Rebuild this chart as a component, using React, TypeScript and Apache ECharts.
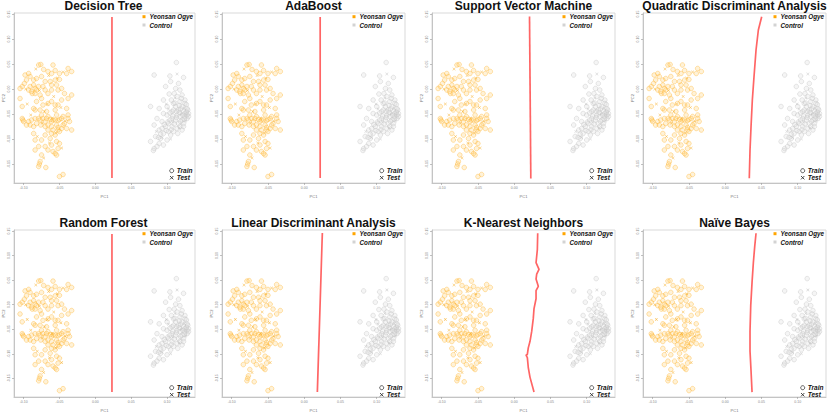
import React, { useEffect, useRef } from "react";
import * as echarts from "echarts";

const panelTitles = [
  "Decision Tree",
  "AdaBoost",
  "Support Vector Machine",
  "Quadratic Discriminant Analysis",
  "Random Forest",
  "Linear Discriminant Analysis",
  "K-Nearest Neighbors",
  "Naïve Bayes",
];

const classNames = ["Yeonsan Ogye", "Control"];
const splitNames = ["Train", "Test"];

const xTicks = [-0.1, -0.05, 0, 0.05, 0.1];
const yTicks = [-0.15, -0.1, -0.05, 0, 0.05, 0.1, 0.15];

const ogyeTrain = [
  [-0.079, 0.048], [-0.076, 0.049], [-0.059, 0.048], [-0.072, 0.039], [-0.066, 0.035],
  [-0.056, 0.037], [-0.061, 0.031], [-0.038, 0.041], [-0.033, 0.035], [-0.04, 0.031],
  [-0.05, 0.031], [-0.093, 0.031], [-0.098, 0.028], [-0.091, 0.025], [-0.096, 0.018],
  [-0.086, 0.018], [-0.082, 0.021], [-0.075, 0.025], [-0.07, 0.015], [-0.063, 0.015],
  [-0.056, 0.018], [-0.05, 0.019], [-0.099, 0.011], [-0.102, 0.005], [-0.105, 0.001],
  [-0.086, 0.008], [-0.079, 0.005], [-0.073, 0.005], [-0.061, 0.008], [-0.054, 0.008],
  [-0.047, 0.001], [-0.052, -0.002], [-0.089, -0.005], [-0.088, -0.009], [-0.084, -0.009],
  [-0.077, -0.012], [-0.066, -0.009], [-0.07, -0.002], [-0.061, -0.002], [-0.043, -0.009],
  [-0.038, -0.019], [-0.033, -0.012], [-0.105, -0.019], [-0.075, -0.019], [-0.082, -0.025],
  [-0.061, -0.025], [-0.047, -0.022], [-0.102, -0.035], [-0.073, -0.032], [-0.066, -0.029],
  [-0.056, -0.032], [-0.052, -0.032], [-0.084, -0.042], [-0.077, -0.042], [-0.068, -0.045],
  [-0.056, -0.042], [-0.04, -0.039], [-0.054, -0.052], [-0.045, -0.055], [-0.038, -0.052],
  [-0.086, -0.039], [-0.075, -0.052], [-0.066, -0.055], [-0.059, -0.062], [-0.102, -0.059],
  [-0.1, -0.065], [-0.096, -0.072], [-0.089, -0.062], [-0.084, -0.059], [-0.079, -0.059],
  [-0.077, -0.062], [-0.073, -0.059], [-0.07, -0.065], [-0.068, -0.059], [-0.063, -0.061],
  [-0.061, -0.065], [-0.056, -0.062], [-0.052, -0.063], [-0.05, -0.061], [-0.047, -0.059],
  [-0.076, -0.072], [-0.07, -0.075], [-0.066, -0.072], [-0.061, -0.075], [-0.054, -0.072],
  [-0.052, -0.077], [-0.047, -0.079], [-0.043, -0.069], [-0.066, -0.082], [-0.059, -0.082],
  [-0.052, -0.082], [-0.061, -0.089], [-0.056, -0.092], [-0.05, -0.085], [-0.033, -0.082],
  [-0.086, -0.089], [-0.07, -0.092], [-0.063, -0.099], [-0.084, -0.102], [-0.075, -0.102],
  [-0.054, -0.105], [-0.05, -0.109], [-0.079, -0.115], [-0.07, -0.115], [-0.061, -0.112],
  [-0.066, -0.122], [-0.084, -0.122], [-0.059, -0.125], [-0.056, -0.129], [-0.054, -0.132],
  [-0.075, -0.132], [-0.052, -0.119], [-0.077, -0.145], [-0.078, -0.15], [-0.079, -0.155],
  [-0.069, -0.157], [-0.05, -0.175], [-0.045, -0.171], [-0.093, -0.065], [-0.091, -0.072],
  [-0.101, -0.062], [-0.082, -0.069], [-0.086, -0.075], [-0.038, -0.059], [-0.036, -0.065],
  [-0.04, -0.079], [-0.045, -0.072], [-0.091, 0.005], [-0.084, 0.001], [-0.082, -0.002],
  [-0.093, -0.002],
];

const ogyeTest = [
  [-0.083, 0.04], [-0.065, 0.027], [-0.045, 0.034], [-0.097, 0.0], [-0.078, -0.003],
  [-0.058, -0.015], [-0.048, -0.037], [-0.071, -0.045], [-0.09, -0.052], [-0.06, -0.058],
  [-0.042, -0.064], [-0.074, -0.068], [-0.055, -0.088], [-0.081, -0.095], [-0.064, -0.108],
  [-0.047, -0.118], [-0.072, -0.138], [-0.095, -0.03], [-0.053, 0.022], [-0.067, -0.03],
];

const controlTrain = [
  [0.113, 0.053], [0.082, 0.028], [0.104, 0.026], [0.123, 0.023], [0.105, 0.015],
  [0.116, 0.011], [0.112, 0.001], [0.118, -0.002], [0.11, -0.009], [0.121, -0.012],
  [0.114, -0.015], [0.125, -0.022], [0.106, -0.022], [0.095, -0.022], [0.118, -0.025],
  [0.109, -0.029], [0.077, -0.035], [0.089, -0.039], [0.1, -0.035], [0.112, -0.035],
  [0.121, -0.035], [0.128, -0.039], [0.116, -0.042], [0.123, -0.045], [0.107, -0.045],
  [0.13, -0.049], [0.095, -0.049], [0.1, -0.052], [0.114, -0.052], [0.118, -0.055],
  [0.125, -0.055], [0.086, -0.059], [0.107, -0.059], [0.112, -0.062], [0.121, -0.062],
  [0.128, -0.059], [0.093, -0.065], [0.102, -0.069], [0.116, -0.069], [0.123, -0.069],
  [0.082, -0.072], [0.098, -0.075], [0.107, -0.075], [0.114, -0.079], [0.118, -0.075],
  [0.089, -0.082], [0.102, -0.085], [0.109, -0.085], [0.095, -0.089], [0.105, -0.092],
  [0.084, -0.095], [0.091, -0.099], [0.1, -0.102], [0.077, -0.105], [0.089, -0.109],
  [0.095, -0.112], [0.082, -0.119], [0.081, -0.123], [0.086, -0.115], [0.125, -0.049],
  [0.129, -0.042], [0.122, -0.052], [0.117, -0.047], [0.113, -0.045], [0.108, -0.054],
  [0.104, -0.062], [0.11, -0.07], [0.121, -0.082], [0.115, -0.089], [0.099, -0.083],
  [0.093, -0.079], [0.106, -0.081], [0.125, -0.029], [0.128, -0.052], [0.109, -0.042],
  [0.119, -0.065], [0.13, -0.055], [0.123, -0.075], [0.111, -0.028], [0.119, -0.04],
  [0.124, -0.06], [0.113, -0.057], [0.104, -0.048], [0.127, -0.046], [0.117, -0.033],
  [0.101, -0.066], [0.096, -0.071], [0.091, -0.09], [0.088, -0.097], [0.12, -0.019],
  [0.103, -0.01], [0.098, 0.005], [0.127, -0.031],
];

const controlTest = [
  [0.114, 0.03], [0.099, -0.03], [0.12, -0.05], [0.108, -0.066], [0.126, -0.064],
  [0.093, -0.097], [0.117, -0.078], [0.102, -0.04], [0.085, -0.085], [0.111, -0.018],
  [0.124, -0.038], [0.105, -0.1],
];

const boundaryDecisionTree = [[0.0232, 0.144], [0.0232, -0.178]];
const boundaryAdaBoost = [[0.022, 0.144], [0.022, -0.178]];
const boundarySVM = [[0.0211, 0.145], [0.0229, -0.179]];
const boundaryQDA = [
  [0.0332, -0.1786], [0.0342, -0.122], [0.0356, -0.0754], [0.0374, -0.022],
  [0.0397, 0.0246], [0.0425, 0.078], [0.0457, 0.118], [0.0503, 0.1446],
];
const boundaryRandomForest = [[0.0232, 0.144], [0.0232, -0.178]];
const boundaryLDA = [[0.025, 0.146], [0.0181, -0.178]];
const boundaryKNN = [
  [0.0324, 0.1454], [0.0319, 0.112], [0.0301, 0.0854], [0.0342, 0.072], [0.031, 0.062],
  [0.0301, 0.052], [0.0332, 0.0374], [0.0301, 0.0286], [0.0301, 0.012], [0.0273, -0.008],
  [0.0263, -0.028], [0.0241, -0.0546], [0.0218, -0.0746], [0.0194, -0.088], [0.0181, -0.1014],
  [0.0163, -0.1026], [0.0181, -0.108], [0.0194, -0.128], [0.0218, -0.148], [0.0273, -0.178],
];
const boundaryNB = [
  [0.0425, 0.1454], [0.0407, 0.1186], [0.0388, 0.0854], [0.037, 0.0454], [0.0352, -0.0014],
  [0.0342, -0.0546], [0.0342, -0.0946], [0.0356, -0.1346], [0.037, -0.178],
];

const boundaries = [
  boundaryDecisionTree, boundaryAdaBoost, boundarySVM, boundaryQDA,
  boundaryRandomForest, boundaryLDA, boundaryKNN, boundaryNB,
];

const COL_OFFSETS = [0, 210, 420, 631];
const ROW_OFFSET = 217;
const FRAME_LEFT = 12;
const FRAME_TOP = 13;
const FRAME_W = 183;
const FRAME_H = 170;

const CROSS = "path://M1,0L5,4L9,0L10,1L6,5L10,9L9,10L5,6L1,10L0,9L4,5L0,1Z";
const FONT = '"Liberation Sans", Arial, Helvetica, sans-serif';

function buildOption() {
  const grids: any[] = [];
  const xAxes: any[] = [];
  const yAxes: any[] = [];
  const series: any[] = [];
  const graphics: any[] = [];

  panelTitles.forEach((title, i) => {
    const col = i % 4;
    const row = Math.floor(i / 4);
    const left = FRAME_LEFT + COL_OFFSETS[col];
    const top = FRAME_TOP + ROW_OFFSET * row;
    grids.push({
      left, top, width: FRAME_W, height: FRAME_H,
      show: true, borderColor: "#d9d9d9", borderWidth: 1, backgroundColor: "#ffffff",
    });
    xAxes.push({
      gridIndex: i, type: "value", min: -0.1134, max: 0.139,
      axisLine: { show: true, onZero: false, lineStyle: { color: "#c4c4c4", width: 1 } },
      axisTick: { show: true, customValues: xTicks, length: 2, lineStyle: { color: "#999", width: 0.6 } },
      axisLabel: {
        customValues: xTicks, fontSize: 3.5, color: "#888", margin: 3, fontFamily: FONT,
        formatter: (v: number) => v.toFixed(2),
      },
      splitLine: { show: false },
      name: "PC1", nameLocation: "middle", nameGap: 11,
      nameTextStyle: { fontSize: 4, color: "#777", fontFamily: FONT },
    });
    yAxes.push({
      gridIndex: i, type: "value", min: -0.188, max: 0.152,
      axisLine: { show: true, onZero: false, lineStyle: { color: "#c4c4c4", width: 1 } },
      axisTick: { show: true, customValues: yTicks, length: 2, lineStyle: { color: "#999", width: 0.6 } },
      axisLabel: {
        customValues: yTicks, fontSize: 3.5, color: "#888", margin: 3, rotate: 90, fontFamily: FONT,
        formatter: (v: number) => v.toFixed(2),
      },
      splitLine: { show: false },
      name: "PC2", nameLocation: "middle", nameGap: 9, nameRotate: 90,
      nameTextStyle: { fontSize: 4, color: "#777", fontFamily: FONT },
    });

    series.push({
      type: "scatter", xAxisIndex: i, yAxisIndex: i, data: controlTrain,
      symbol: "circle", symbolSize: 4.6, silent: true,
      itemStyle: { color: "rgba(215,215,215,0.3)", borderColor: "rgba(195,195,195,0.55)", borderWidth: 0.9 },
    });
    series.push({
      type: "scatter", xAxisIndex: i, yAxisIndex: i, data: controlTest,
      symbol: CROSS, symbolSize: 3, silent: true,
      itemStyle: { color: "rgba(180,180,180,0.9)" },
    });
    series.push({
      type: "scatter", xAxisIndex: i, yAxisIndex: i, data: ogyeTrain,
      symbol: "circle", symbolSize: 4.6, silent: true,
      itemStyle: { color: "rgba(255,200,90,0.3)", borderColor: "rgba(255,175,30,0.5)", borderWidth: 0.9 },
    });
    series.push({
      type: "scatter", xAxisIndex: i, yAxisIndex: i, data: ogyeTest,
      symbol: CROSS, symbolSize: 3, silent: true,
      itemStyle: { color: "rgba(245,160,0,0.95)" },
    });
    series.push({
      type: "line", xAxisIndex: i, yAxisIndex: i, data: boundaries[i],
      showSymbol: false, symbol: "none", silent: true, z: 5,
      lineStyle: { color: "rgba(255,35,35,0.7)", width: 1.7 },
    });

    const cx = left + FRAME_W / 2;
    graphics.push({
      type: "text", x: cx, y: top - 7.5, silent: true,
      style: {
        text: title, fill: "#111", font: `bold 12px ${FONT}`,
        align: "center", verticalAlign: "middle", textAlign: "center", textVerticalAlign: "middle",
      },
    });
    // class legend (top-right)
    const lx = left + 132;
    const ly1 = top + 3.7;
    const ly2 = top + 12;
    graphics.push({ type: "rect", silent: true, shape: { x: lx - 1.5, y: ly1 - 1.5, width: 3, height: 3 }, style: { fill: "#FFA500" } });
    graphics.push({ type: "rect", silent: true, shape: { x: lx - 1.5, y: ly2 - 1.5, width: 3, height: 3 }, style: { fill: "#d3d3d3" } });
    graphics.push({
      type: "text", x: lx + 5.5, y: ly1, silent: true,
      style: { text: classNames[0], fill: "#111", font: `italic bold 6.3px ${FONT}`, align: "left", verticalAlign: "middle", textAlign: "left", textVerticalAlign: "middle" },
    });
    graphics.push({
      type: "text", x: lx + 5.5, y: ly2, silent: true,
      style: { text: classNames[1], fill: "#111", font: `italic bold 6.3px ${FONT}`, align: "left", verticalAlign: "middle", textAlign: "left", textVerticalAlign: "middle" },
    });
    // split legend (bottom-right)
    const sx = left + 159.7;
    const sy1 = top + 157.7;
    const sy2 = top + 164.7;
    graphics.push({ type: "circle", silent: true, shape: { cx: sx, cy: sy1, r: 2 }, style: { fill: "none", stroke: "#333", lineWidth: 0.8 } });
    graphics.push({ type: "line", silent: true, shape: { x1: sx - 1.7, y1: sy2 - 1.7, x2: sx + 1.7, y2: sy2 + 1.7 }, style: { stroke: "#333", lineWidth: 0.9 } });
    graphics.push({ type: "line", silent: true, shape: { x1: sx - 1.7, y1: sy2 + 1.7, x2: sx + 1.7, y2: sy2 - 1.7 }, style: { stroke: "#333", lineWidth: 0.9 } });
    graphics.push({
      type: "text", x: sx + 5, y: sy1, silent: true,
      style: { text: splitNames[0], fill: "#111", font: `italic bold 6.5px ${FONT}`, align: "left", verticalAlign: "middle", textAlign: "left", textVerticalAlign: "middle" },
    });
    graphics.push({
      type: "text", x: sx + 5, y: sy2, silent: true,
      style: { text: splitNames[1], fill: "#111", font: `italic bold 6.5px ${FONT}`, align: "left", verticalAlign: "middle", textAlign: "left", textVerticalAlign: "middle" },
    });
  });

  return {
    animation: false,
    backgroundColor: "#ffffff",
    textStyle: { fontFamily: FONT },
    grid: grids,
    xAxis: xAxes,
    yAxis: yAxes,
    series,
    graphic: graphics,
  };
}

export default function App() {
  const ref = useRef<HTMLDivElement>(null);
  useEffect(() => {
    if (!ref.current) return;
    const chart = echarts.init(ref.current, undefined, { renderer: "svg" });
    chart.setOption(buildOption() as any);
    return () => chart.dispose();
  }, []);
  return (
    <div
      ref={ref}
      style={{ position: "fixed", left: 0, top: 0, width: 827, height: 413, background: "#fff" }}
    />
  );
}
